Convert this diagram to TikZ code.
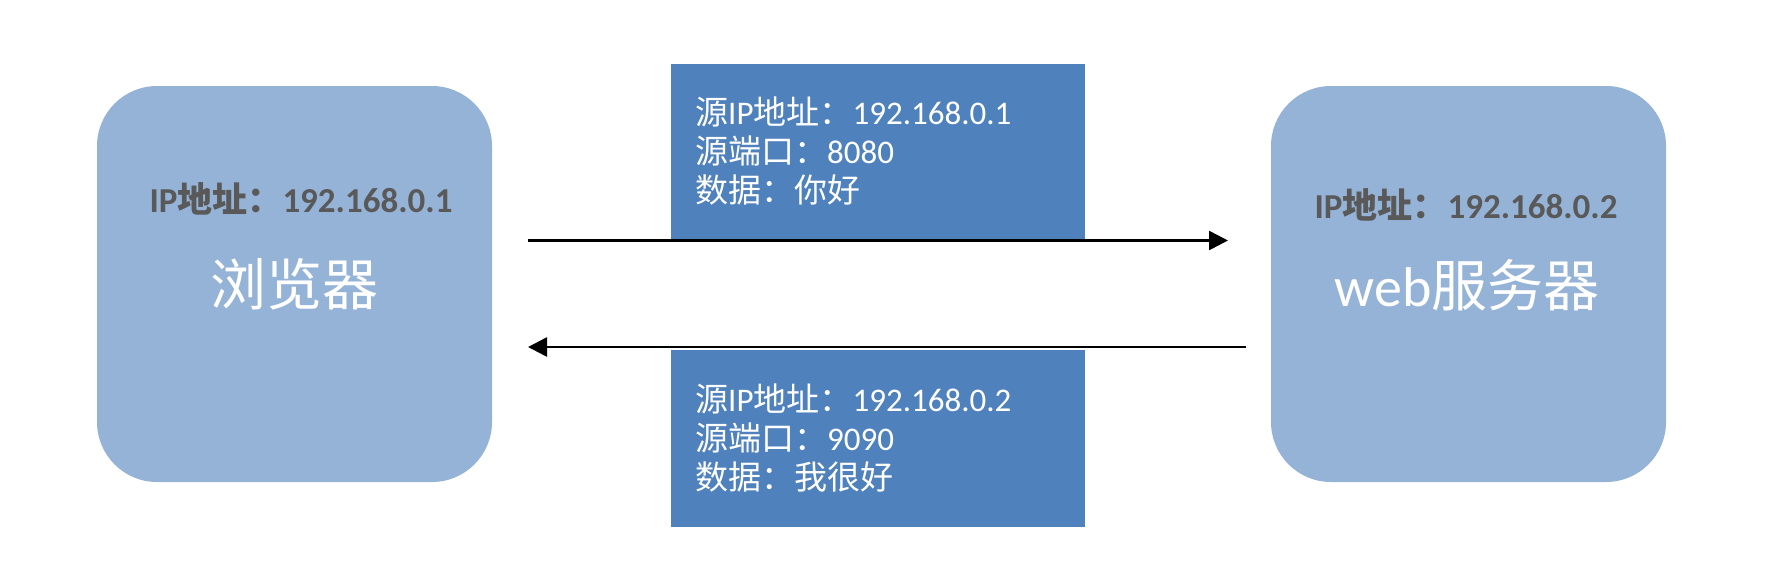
\documentclass[tikz,border=0pt]{standalone}
\usepackage{fontspec}
\setmainfont{Carlito}
\newfontfamily\cjk{Noto Sans CJK SC}
\newcommand{\zh}[1]{{\cjk #1}}
\usetikzlibrary{arrows.meta}
\definecolor{hostfill}{HTML}{95B3D7}
\definecolor{pktfill}{HTML}{4F81BD}
\definecolor{iptext}{HTML}{595959}
\tikzset{
  hostbox/.style={fill=hostfill, draw=none, rounded corners=60pt, minimum width=395pt, minimum height=396pt, inner sep=0pt},
  pktbox/.style={fill=pktfill, draw=none, minimum width=414pt, inner sep=0pt},
  iplabel/.style={anchor=base, inner sep=0pt, text=iptext, font=\fontsize{35}{42}\selectfont\bfseries},
  hostname/.style={anchor=base, inner sep=0pt, text=white, font=\fontsize{56}{64}\selectfont},
  pktline/.style={anchor=base west, inner sep=0pt, text=white, font=\fontsize{33}{39}\selectfont},
  flow/.style={line width=2.6pt, -{Triangle[length=19pt,width=19pt]}}
}
\begin{document}
\begin{tikzpicture}[x=1pt,y=-1pt]
\useasboundingbox (0,0) rectangle (1772,582);
% hosts
\node[hostbox] (browser) at (294.5,284) {};
\node[hostbox] (server) at (1468.5,284) {};
% packet boxes
\node[pktbox, minimum height=176pt] (req) at (878,152) {};
\node[pktbox, minimum height=177pt] (resp) at (878,438.5) {};
% host labels
\node[iplabel] (bip) at (301,212) {IP\zh{地址：}192.168.0.1};
\node[hostname] (bname) at (294.5,305) {\zh{浏览器}};
\node[iplabel] (sip) at (1466,218) {IP\zh{地址：}192.168.0.2};
\node[hostname] (sname) at (1467,306) {web\zh{服务器}};
% request text
\node[pktline] (r1) at (695,124) {\zh{源}IP\zh{地址：}192.168.0.1};
\node[pktline] (r2) at (695,163) {\zh{源端口：}8080};
\node[pktline] (r3) at (695,202) {\zh{数据：你好}};
% response text
\node[pktline] (s1) at (695,411) {\zh{源}IP\zh{地址：}192.168.0.2};
\node[pktline] (s2) at (695,450) {\zh{源端口：}9090};
\node[pktline] (s3) at (695,489) {\zh{数据：我很好}};
% arrows
\coordinate (a1s) at (528,240.5);
\coordinate (a1e) at (1228,240.5);
\coordinate (a2s) at (1246,347);
\coordinate (a2e) at (528,347);
\draw[flow] (a1s) -- (a1e);
\draw[flow] (a2s) -- (a2e);
\end{tikzpicture}
\end{document}
